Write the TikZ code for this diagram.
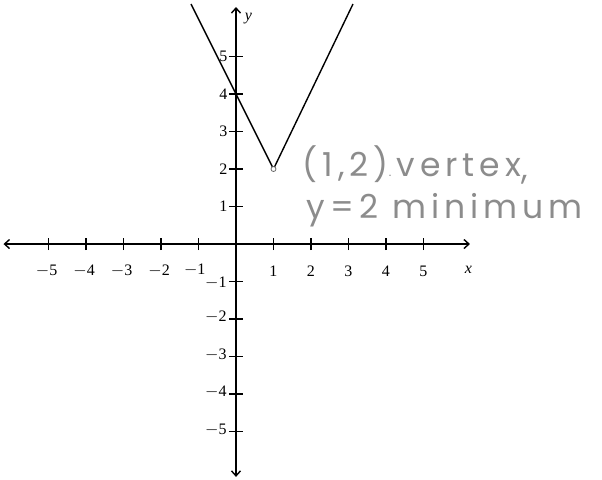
\documentclass[tikz,border=0pt]{standalone}
\usepackage{fontspec}
\setmainfont{Liberation Serif}
\newfontfamily\handfont[LetterSpace=15]{Poppins}
\usetikzlibrary{arrows.meta}
\begin{document}
\begin{tikzpicture}[x=37.5bp,y=37.5bp,
  axis/.style={line width=1.4bp,{Straight Barb[length=5bp,width=9bp]}-{Straight Barb[length=5bp,width=9bp]}},
  tickmark/.style={line width=1.1bp},
  ticklabel/.style={font=\fontsize{16bp}{18bp}\selectfont,inner sep=1bp},
  graphline/.style={line width=1.4bp,line join=round},
  hand/.style={font=\handfont\fontsize{33bp}{36bp}\selectfont,text=black!45,anchor=base west,inner sep=0pt}]
\useasboundingbox (-6.293,-6.267) rectangle (9.76,6.507);
% axes
\coordinate (xl) at (-6.2,0);
\coordinate (xr) at (6.24,0);
\coordinate (yb) at (0,-6.21);
\coordinate (yt) at (0,6.32);
\draw[axis] (xl) -- (xr);
\draw[axis] (yb) -- (yt);
% x ticks
\foreach \i in {-5,-4,-3,-2,-1,1,2,3,4,5}{
  \draw[tickmark] (\i,-0.16) -- (\i,0.16);
}
\foreach \i in {-5,-4,-3,-2}{
  \node[ticklabel] (xt\i) at (\i-0.05,-0.73) {$-$\the\numexpr-\i\relax};
}
\node[ticklabel] (xtm1) at (-1.1,-0.68) {$-$1};
\foreach \i in {1,2,3,4,5}{
  \node[ticklabel] (xt\i) at (\i,-0.73) {\i};
}
% y ticks
\foreach \i in {-5,-4,-3,-2,-1,1,2,3,4,5}{
  \draw[tickmark] (-0.19,\i) -- (0.19,\i);
}
\foreach \i in {1,2,3,4,5}{
  \node[ticklabel,anchor=east] (yt\i) at (-0.2,\i) {\i};
}
\foreach \i in {-5,-4,-3,-2}{
  \node[ticklabel,anchor=east] (ytm\i) at (-0.22,\i+0.05) {$-$\the\numexpr-\i\relax};
}
\node[ticklabel,anchor=east] (ytm-1) at (-0.22,-1.03) {$-$1};
\node[ticklabel,font=\fontsize{16bp}{18bp}\selectfont\itshape] (xlab) at (6.2,-0.68) {x};
\node[ticklabel,font=\fontsize{16bp}{18bp}\selectfont\itshape] (ylab) at (0.33,6.0) {y};
% graph
\coordinate (gl) at (-1.2,6.4);
\coordinate (v) at (1,2);
\coordinate (gr) at (3.12,6.4);
\draw[graphline] (gl) -- (v) -- (gr);
\draw[line width=0.8bp,draw=black!60,fill=white] (v) circle (2.5bp);
% handwritten notes
\node[hand] (n1) at (1.78,1.81) {(1,2){\fontsize{12bp}{12bp}\selectfont.}\,vertex\raisebox{-0.2ex}{,}};
\node[hand] (n2) at (1.88,0.69) {y=\,2 minimum};
\end{tikzpicture}
\end{document}
